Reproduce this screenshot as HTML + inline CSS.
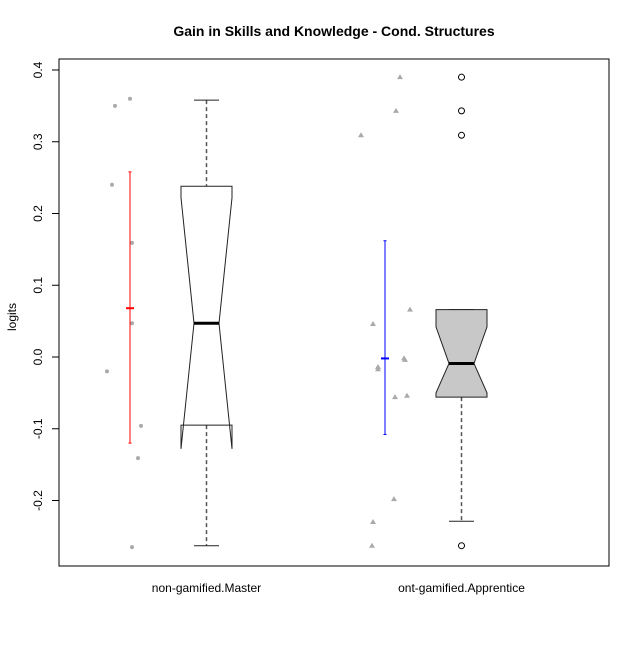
<!DOCTYPE html>
<html><head><meta charset="utf-8"><style>
body{margin:0;background:#fff}
svg text{font-family:"Liberation Sans",sans-serif}
</style></head><body>
<svg id="chart" width="640" height="640" xmlns="http://www.w3.org/2000/svg">
<rect width="640" height="640" fill="#fff"/>
<text x="334" y="36" text-anchor="middle" font-size="14" font-weight="bold">Gain in Skills and Knowledge - Cond. Structures</text>
<text transform="translate(16,317) rotate(-90)" text-anchor="middle" font-size="12">logits</text>
<rect x="59" y="59" width="550" height="507" fill="none" stroke="#000"/>
<g id="g"></g>
</svg>
<script>
const categories=["non-gamified.Master","ont-gamified.Apprentice"];
const yTicks=[-0.2,-0.1,0.0,0.1,0.2,0.3,0.4];
const yTickLabels=["-0.2","-0.1","0.0","0.1","0.2","0.3","0.4"];
const pts1=[0.360,0.350,0.240,0.159,0.047,-0.020,-0.096,-0.141,-0.265];
const pts1x=[130,115,112,132,132,107,141,138,132];
const pts2=[0.390,0.343,0.309,0.066,0.046,-0.002,-0.004,-0.014,-0.017,-0.056,-0.054,-0.198,-0.230,-0.263];
const pts2x=[400,396,361,410,373,404,405,378,378,395,407,394,373,372];
const boxStats=[[-0.263,-0.095,0.047,0.238,0.358],[-0.229,-0.056,-0.009,0.066,0.066]];
const notches=[[-0.128,0.222],[-0.050,0.042]];
const outliers=[[],[0.390,0.343,0.309,-0.263]];
const means=[0.068,-0.002];
const ciLo=[-0.120,-0.108];
const ciHi=[0.258,0.162];
const ciX=[130,385];
const ciColor=["#ff0000","#0000ff"];

const ns="http://www.w3.org/2000/svg";
const g=document.getElementById('g');
const Y=v=>357-v*717.5;
const X=i=>206.5+i*255;
function el(t,a,name){const e=document.createElementNS(ns,t);for(const k in a)e.setAttribute(k,a[k]);g.appendChild(e);return e;}
yTicks.forEach((v,i)=>{
 const t=el('line',{x1:52,x2:59,y1:Y(v),y2:Y(v),stroke:'#000'});
 
 
 const l=el('text',{transform:`translate(42,${Y(v)}) rotate(-90)`,'text-anchor':'middle','font-size':12});
 l.textContent=yTickLabels[i];
 
 
});
categories.forEach((c,i)=>{
 const l=el('text',{x:X(i),y:592,'text-anchor':'middle','font-size':12});
 l.textContent=c;
 
 
});
function pts(arr,xs,shape){arr.forEach((v,i)=>{let e;
 if(shape==='c')e=el('circle',{cx:xs[i],cy:Y(v),r:2,fill:'#aaa'});
 else{const x=xs[i],y=Y(v);e=el('polygon',{points:`${x},${y-3} ${x-3},${y+2} ${x+3},${y+2}`,fill:'#aaa'});}
 
 });}
pts(pts1,pts1x,'c');pts(pts2,pts2x,'t');
boxStats.forEach((s,i)=>{
 const cx=X(i),hw=25.5,nw=12.5,fill=i===0?'#fff':'#c8c8c8';
 const [lo,q1,md,q3,hi]=s;const [nl,nh]=notches[i];
 const w1=el('line',{x1:cx,x2:cx,y1:Y(hi),y2:Y(q3),stroke:'#555','stroke-dasharray':'4,3','stroke-width':1.5});
 
 const w2=el('line',{x1:cx,x2:cx,y1:Y(q1),y2:Y(lo),stroke:'#555','stroke-dasharray':'4,3','stroke-width':1.5});
 
 [hi,lo].forEach(v=>{const st=el('line',{x1:cx-nw,x2:cx+nw,y1:Y(v),y2:Y(v),stroke:'#222'});
  });
 const p=[[cx-hw,Y(q3)],[cx+hw,Y(q3)],[cx+hw,Y(nh)],[cx+nw,Y(md)],[cx+hw,Y(nl)],[cx+hw,Y(q1)],[cx-hw,Y(q1)],[cx-hw,Y(nl)],[cx-nw,Y(md)],[cx-hw,Y(nh)]];
 const b=el('polygon',{points:p.map(q=>q.join(',')).join(' '),fill:fill,stroke:'#222'});
 
 const m=el('line',{x1:cx-nw,x2:cx+nw,y1:Y(md),y2:Y(md),stroke:'#000','stroke-width':3});
 
 outliers[i].forEach(v=>{const o=el('circle',{cx:cx,cy:Y(v),r:3,fill:'none',stroke:'#000'});
  });
 const x=ciX[i],col=ciColor[i];
 const ci=el('line',{x1:x,x2:x,y1:Y(ciHi[i]),y2:Y(ciLo[i]),stroke:col});
 
 [ciHi[i],ciLo[i]].forEach(v=>{const c=el('line',{x1:x-1.5,x2:x+1.5,y1:Y(v),y2:Y(v),stroke:col});
  });
 const mn=el('line',{x1:x-4,x2:x+4,y1:Y(means[i]),y2:Y(means[i]),stroke:col,'stroke-width':2});
 
});
</script>
</body></html>
